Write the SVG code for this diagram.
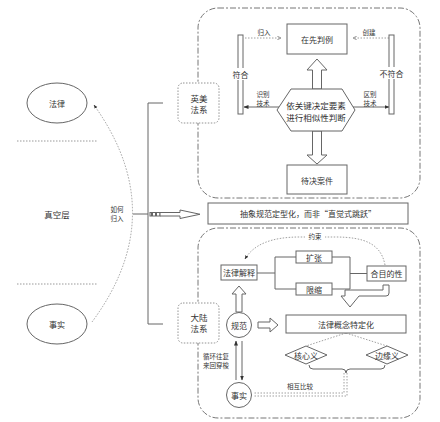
<svg xmlns="http://www.w3.org/2000/svg" width="440" height="422" viewBox="0 0 440 422">
<defs>
<style>
text{font-family:"Noto Sans CJK SC","Noto Sans",sans-serif;fill:#333;font-size:8px;text-anchor:middle;dominant-baseline:central}
.s{font-size:6.5px}
.m{font-size:8.5px}
.box{fill:#fff;stroke:#666;stroke-width:1}
.ln{fill:none;stroke:#666;stroke-width:1}
.dash{fill:none;stroke:#777;stroke-width:1;stroke-dasharray:6 2 2 2}
.dot{fill:none;stroke:#888;stroke-width:0.8;stroke-dasharray:1.5 1.5}
.dbox{fill:#fff;stroke:#777;stroke-width:0.8;stroke-dasharray:1.5 1.5}
.hol{fill:#fff;stroke:#666;stroke-width:1}
.bg{fill:#fff}
</style>
<marker id="open" viewBox="0 0 10 10" refX="9" refY="5" markerWidth="6" markerHeight="6" orient="auto"><path d="M1,1 L9,5 L1,9" fill="none" stroke="#777" stroke-width="1.5"/></marker>
<marker id="solid" viewBox="0 0 10 10" refX="9" refY="5" markerWidth="5" markerHeight="5" orient="auto"><path d="M0,1 L10,5 L0,9Z" fill="#333"/></marker>
</defs>
<rect width="440" height="422" fill="#fff"/>

<g id="containers">
<rect class="dash" x="198" y="8" width="222" height="190" rx="20"/>
<rect class="dash" x="198" y="228" width="222" height="190" rx="20"/>
</g>

<g id="connectors">
<line class="ln" x1="17" y1="141" x2="97" y2="141" style="stroke:#999;stroke-dasharray:1.5 1.5"/>
<line class="ln" x1="17" y1="284" x2="97" y2="284" style="stroke:#999;stroke-dasharray:1.5 1.5"/>
<path class="dot" d="M92,322 Q172,214 94,105" marker-end="url(#solid)"/>
<path class="ln" d="M163,103 H148 V324 H163 M133,214 H148"/>
<rect class="hol" x="150" y="212.5" width="1.5" height="3.5"/>
<rect class="hol" x="152.5" y="212.5" width="3" height="3.5"/>
<rect class="hol" x="156.5" y="212.5" width="3.5" height="3.5"/>
<path class="hol" d="M160,212.5 H180 V210 L200,214.25 L180,218.5 V216 H160 Z"/>

<line class="dot" x1="245" y1="38" x2="281" y2="38" marker-end="url(#open)"/>
<line class="dot" x1="389" y1="38" x2="353" y2="38" marker-end="url(#open)"/>
<line class="ln" x1="279" y1="107" x2="244" y2="107" marker-end="url(#solid)"/>
<line class="ln" x1="353" y1="107" x2="389" y2="107" marker-end="url(#solid)"/>
<path class="hol" d="M312.5,89 V70 H307 L317,59 L327,70 H321.5 V89 Z"/>
<path class="hol" d="M312.5,131 V155 H307 L317,164 L327,155 H321.5 V131 Z"/>

<path class="dot" d="M385,265 C381,244 365,237 335,237 L300,237 C272,237 254,244 245,259" marker-end="url(#solid)"/>
<path class="ln" d="M257,273 H275 M275,257 V289 M275,257 H296 M275,289 H296"/>
<path class="ln" d="M332,257 H350 V289 H332 M350,273.5 H367"/>
<path class="hol" d="M383,285 H389 V293 Q389,296 386,296 H359 L350,307 L341,296 H345 V290 H383 Z"/>
<path class="hol" d="M236,312 V294 H232 L239,286 L246,294 H242 V312 Z"/>
<path class="hol" d="M258,322 H270 V318 L278,325 L270,332 V328 H258 Z"/>
<path class="dot" d="M346,333 L306,346 M346,333 L387,346"/>
<path class="ln" d="M309,365 Q309,369 313,369 H342 Q346,369 346,373 Q346,369 350,369 H381 Q385,369 385,365"/>
<path class="dot" d="M344,373 V393 H253 M347,373 V396 H253"/>
<line class="ln" x1="236" y1="380" x2="236" y2="341" marker-end="url(#solid)"/>
<line class="ln" x1="242" y1="341" x2="242" y2="380" marker-end="url(#solid)"/>
</g>

<g id="labels">
<text x="117" y="209" class="s">如何</text>
<text x="117" y="218" class="s">归入</text>
<text x="264" y="32" class="s">归入</text>
<text x="369" y="32" class="s">创建</text>
<text x="263" y="94" class="s">识别</text>
<text x="263" y="103" class="s">技术</text>
<text x="370" y="94" class="s">区别</text>
<text x="370" y="103" class="s">技术</text>
<rect class="bg" x="305" y="232" width="20" height="9"/>
<text x="315" y="236" class="s">约束</text>
<text x="300" y="386" class="s">相互比较</text>
<text x="216" y="356" class="s">循环往复</text>
<text x="216" y="365" class="s">来回穿梭</text>
</g>

<g id="law"><ellipse cx="57" cy="103" rx="30" ry="20" class="box"/><text x="57" y="103">法律</text></g>
<g id="fact-left"><ellipse cx="57" cy="324" rx="30" ry="20" class="box"/><text x="57" y="324">事实</text></g>
<g id="vacuum"><text x="57" y="214" class="m">真空层</text></g>

<g id="common-law"><rect class="dbox" x="178" y="83" width="41" height="40" rx="5"/><text x="199" y="97.5" class="m">英美</text><text x="199" y="108.5" class="m">法系</text></g>
<g id="precedent"><rect class="box" x="287" y="24" width="60" height="30"/><text x="317" y="39">在先判例</text></g>
<g id="conform"><rect class="box" x="238" y="35" width="5" height="79"/><rect class="bg" x="232" y="68" width="17" height="12"/><text x="240.5" y="74">符合</text></g>
<g id="nonconform"><rect class="box" x="389" y="35" width="5" height="79"/><rect class="bg" x="379" y="67" width="25" height="12"/><text x="391.5" y="73">不符合</text></g>
<g id="judge"><polygon class="box" points="277,110 291,89 342,89 355,110 342,131 291,131"/><text x="316" y="104.5" class="m">依关键决定要素</text><text x="316" y="116.5" class="m">进行相似性判断</text></g>
<g id="pending"><rect class="box" x="287" y="165" width="60" height="29"/><text x="317" y="180">待决案件</text></g>

<g id="abstract"><rect class="box" x="208" y="203" width="200" height="21"/><text x="308" y="213.5">抽象规范定型化，而非“直觉式跳跃”</text></g>

<g id="civil-law"><rect class="dbox" x="178" y="303" width="41" height="40" rx="5"/><text x="199" y="317" class="m">大陆</text><text x="199" y="328" class="m">法系</text></g>
<g id="interpretation"><rect class="box" x="221" y="265" width="36" height="15"/><text x="239" y="272.5">法律解释</text></g>
<g id="expand"><rect class="box" x="296" y="251" width="36" height="12"/><text x="314" y="257">扩张</text></g>
<g id="restrict"><rect class="box" x="296" y="283" width="36" height="12"/><text x="314" y="289">限缩</text></g>
<g id="purpose"><rect class="box" x="367" y="266" width="39" height="15"/><text x="386.5" y="273.5">合目的性</text></g>
<g id="norm"><circle class="box" cx="239" cy="325" r="12.5"/><text x="239" y="325">规范</text></g>
<g id="concept"><rect class="box" x="286" y="315" width="120" height="18"/><text x="346" y="324">法律概念特定化</text></g>
<g id="core"><polygon class="box" points="285,355 306,346 327,355 306,364"/><text x="306" y="355">核心义</text></g>
<g id="edge"><polygon class="box" points="366,355 387,346 408,355 387,364"/><text x="387" y="355">边缘义</text></g>
<g id="fact"><circle class="box" cx="239" cy="395" r="12.5"/><text x="239" y="395">事实</text></g>
</svg>
